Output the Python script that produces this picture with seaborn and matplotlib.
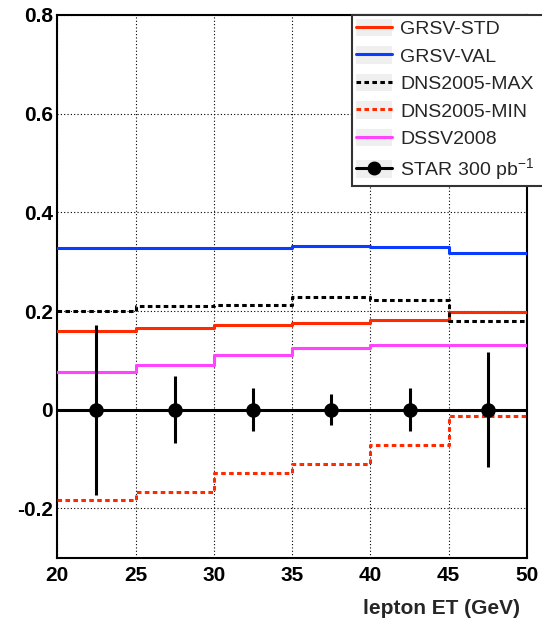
import numpy as np
import pandas as pd
import matplotlib
matplotlib.use("Agg")
import matplotlib.pyplot as plt
import seaborn as sns
from matplotlib.lines import Line2D
from matplotlib.patches import Rectangle
from matplotlib.legend_handler import HandlerBase
from matplotlib.ticker import MultipleLocator

# ---- data ----
bin_edges = [20, 25, 30, 35, 40, 45, 50]
bin_centers = [22.5, 27.5, 32.5, 37.5, 42.5, 47.5]
grsv_std = [0.160, 0.165, 0.172, 0.176, 0.182, 0.198]
grsv_val = [0.327, 0.327, 0.327, 0.332, 0.330, 0.317]
dns_max = [0.200, 0.211, 0.213, 0.229, 0.223, 0.179]
dns_min = [-0.184, -0.166, -0.128, -0.110, -0.072, -0.012]
dssv = [0.076, 0.091, 0.110, 0.126, 0.132, 0.132]
star_vals = [0.0, 0.0, 0.0, 0.0, 0.0, 0.0]
star_err = [0.172, 0.068, 0.044, 0.031, 0.044, 0.117]

labels = ["GRSV-STD", "GRSV-VAL", "DNS2005-MAX", "DNS2005-MIN", "DSSV2008",
          "STAR 300 pb$^{-1}$"]
ytick_vals = [-0.2, 0, 0.2, 0.4, 0.6, 0.8]
ytick_labels = ["-0.2", "0", "0.2", "0.4", "0.6", "0.8"]

sns.set_theme(style="white")
plt.rcParams['font.family'] = ['Liberation Sans', 'DejaVu Sans']
plt.rcParams['mathtext.fontset'] = 'custom'
plt.rcParams['mathtext.rm'] = 'Liberation Sans'
plt.rcParams['mathtext.it'] = 'Liberation Sans'

fig = plt.figure(figsize=(5.42, 6.21), dpi=100)
ax = fig.add_axes([57.3 / 542, 1 - 557.7 / 621, (527 - 57.3) / 542, (557.7 - 15) / 621])

def steps(vals):
    return pd.DataFrame({"x": bin_edges, "y": list(vals) + [vals[-1]]})

LW = 2.2
DASH = (0, (1.5, 1.1))
styles = [
    (grsv_std, "#ff2a00", "-"),
    (grsv_val, "#0a3cff", "-"),
    (dns_max, "black", DASH),
    (dns_min, "#ff2a00", DASH),
    (dssv, "#ff44ff", "-"),
]
for vals, col, ls in styles:
    d = steps(vals)
    sns.lineplot(data=d, x="x", y="y", ax=ax, drawstyle="steps-post",
                 estimator=None, color=col, linewidth=LW, linestyle=ls, zorder=3)

# STAR
d = steps(star_vals)
sns.lineplot(data=d, x="x", y="y", ax=ax, drawstyle="steps-post",
             estimator=None, color="black", linewidth=LW, zorder=4)
ax.errorbar(bin_centers, star_vals, yerr=star_err, fmt="none", ecolor="black",
            elinewidth=LW, capsize=0, zorder=5)
sns.scatterplot(x=bin_centers, y=star_vals, ax=ax, color="black", s=110,
                marker="o", edgecolor="black", linewidth=0, zorder=6)

ax.set_xlim(20, 50)
ax.set_ylim(-0.3, 0.8)
ax.xaxis.set_major_locator(MultipleLocator(5))
ax.xaxis.set_minor_locator(MultipleLocator(1))
ax.yaxis.set_minor_locator(MultipleLocator(0.05))
ax.set_yticks(ytick_vals)
ax.set_yticklabels(ytick_labels)
ax.tick_params(axis="both", which="major", direction="in", width=1.2,
               labelsize=15, top=False, right=False, colors="black")
ax.tick_params(axis="x", which="major", length=17, pad=6)
ax.tick_params(axis="y", which="major", length=14, pad=3)
ax.tick_params(axis="both", which="minor", direction="in", length=7.5, width=1.2,
               top=False, right=False, colors="black")
for lab in ax.get_xticklabels() + ax.get_yticklabels():
    lab.set_fontweight("bold")
ax.grid(True, which="major", color="black", linestyle=(0, (1, 2)), linewidth=0.8)
ax.set_axisbelow(True)
for sp in ax.spines.values():
    sp.set_color("black")
    sp.set_linewidth(1.5)
    sp.set_visible(True)
ax.set_xlabel("")
ax.set_ylabel("")
fig.text(520 / 542, 1 - 608 / 621, "lepton ET (GeV)", ha="right", va="center",
         fontsize=15, fontweight="bold")


class HandlerOverlay(HandlerBase):
    def create_artists(self, legend, orig_handle, xdescent, ydescent, width,
                       height, fontsize, trans):
        artists = []
        hmap = legend.get_legend_handler_map()
        for h in orig_handle:
            handler = legend.get_legend_handler(hmap, h)
            artists += handler.create_artists(legend, h, xdescent, ydescent,
                                              width, height, fontsize, trans)
        return artists


# legend
bg = "#efefef"
handles = []
for vals, col, ls in styles:
    handles.append((Rectangle((0, 0), 1, 1, facecolor=bg, edgecolor="none"),
                    Line2D([], [], color=col, linestyle=ls, linewidth=LW)))
handles.append((Rectangle((0, 0), 1, 1, facecolor=bg, edgecolor="none"),
                Line2D([], [], color="black", linewidth=LW, marker="o",
                       markersize=9)))
leg = fig.legend(handles, labels, loc="upper left",
                 bbox_to_anchor=(351.7 / 542, 1 - 185 / 621, 0.4, 170 / 621),
                 bbox_transform=fig.transFigure, mode="expand", borderaxespad=0,
                 fontsize=14, labelspacing=0.42, handlelength=1.85,
                 handleheight=1.0, handletextpad=0.45, borderpad=0.2,
                 frameon=True, fancybox=False, framealpha=1,
                 handler_map={tuple: HandlerOverlay()})
leg.get_frame().set_edgecolor("#333333")
leg.get_frame().set_linewidth(1.5)

fig.savefig("out.png", dpi=100)
